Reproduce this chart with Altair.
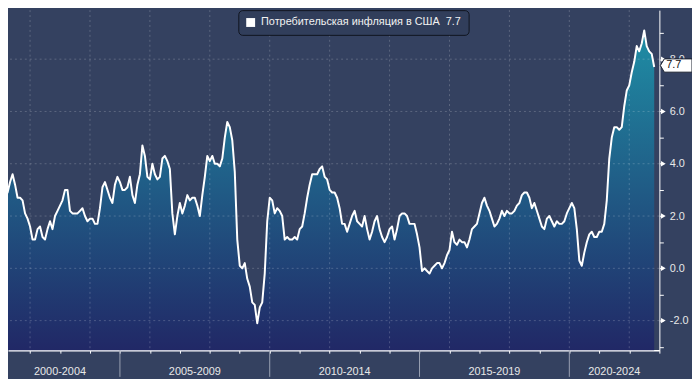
import altair as alt
import pandas as pd

FONT = "Liberation Sans, Arial, sans-serif"
SERIES = "Потребительская инфляция в США\u00a0\u00a07.7"

# US CPI, % y/y, monthly (Jan..Dec)
cpi_2001 = [3.7, 3.5, 2.9, 3.3, 3.6, 3.2, 2.7, 2.7, 2.6, 2.1, 1.9, 1.6]
cpi_2002 = [1.1, 1.1, 1.5, 1.6, 1.2, 1.1, 1.5, 1.8, 1.5, 2.0, 2.2, 2.4]
cpi_2003 = [2.6, 3.0, 3.0, 2.2, 2.1, 2.1, 2.1, 2.2, 2.3, 2.0, 1.8, 1.9]
cpi_2004 = [1.9, 1.7, 1.7, 2.3, 3.1, 3.3, 3.0, 2.7, 2.5, 3.2, 3.5, 3.3]
cpi_2005 = [3.0, 3.0, 3.1, 3.5, 2.8, 2.5, 3.2, 3.6, 4.7, 4.3, 3.5, 3.4]
cpi_2006 = [4.0, 3.6, 3.4, 3.5, 4.2, 4.3, 4.1, 3.8, 2.1, 1.3, 2.0, 2.5]
cpi_2007 = [2.1, 2.4, 2.8, 2.6, 2.7, 2.7, 2.4, 2.0, 2.8, 3.5, 4.3, 4.1]
cpi_2008 = [4.3, 4.0, 4.0, 3.9, 4.2, 5.0, 5.6, 5.4, 4.9, 3.7, 1.1, 0.1]
cpi_2009 = [0.0, 0.2, -0.4, -0.7, -1.3, -1.4, -2.1, -1.5, -1.3, -0.2, 1.8, 2.7]
cpi_2010 = [2.6, 2.1, 2.3, 2.2, 2.0, 1.1, 1.2, 1.1, 1.1, 1.2, 1.1, 1.5]
cpi_2011 = [1.6, 2.1, 2.7, 3.2, 3.6, 3.6, 3.6, 3.8, 3.9, 3.5, 3.4, 3.0]
cpi_2012 = [2.9, 2.9, 2.7, 2.3, 1.7, 1.7, 1.4, 1.7, 2.0, 2.2, 1.8, 1.7]
cpi_2013 = [1.6, 2.0, 1.5, 1.1, 1.4, 1.8, 2.0, 1.5, 1.2, 1.0, 1.2, 1.5]
cpi_2014 = [1.6, 1.1, 1.5, 2.0, 2.1, 2.1, 2.0, 1.7, 1.7, 1.7, 1.3, 0.8]
cpi_2015 = [-0.1, 0.0, -0.1, -0.2, 0.0, 0.1, 0.2, 0.2, 0.0, 0.2, 0.5, 0.7]
cpi_2016 = [1.4, 1.0, 0.9, 1.1, 1.0, 1.0, 0.8, 1.1, 1.5, 1.6, 1.7, 2.1]
cpi_2017 = [2.5, 2.7, 2.4, 2.2, 1.9, 1.6, 1.7, 1.9, 2.2, 2.0, 2.2, 2.1]
cpi_2018 = [2.1, 2.2, 2.4, 2.5, 2.8, 2.9, 2.9, 2.7, 2.3, 2.5, 2.2, 1.9]
cpi_2019 = [1.6, 1.5, 1.9, 2.0, 1.8, 1.6, 1.8, 1.7, 1.7, 1.8, 2.1, 2.3]
cpi_2020 = [2.5, 2.3, 1.5, 0.3, 0.1, 0.6, 1.0, 1.3, 1.4, 1.2, 1.2, 1.4]
cpi_2021 = [1.4, 1.7, 2.6, 4.2, 5.0, 5.4, 5.4, 5.3, 5.4, 6.2, 6.8, 7.0]
cpi_2022 = [7.5, 7.9, 8.5, 8.3, 8.6, 9.1, 8.5, 8.3, 8.2, 7.7]

cpi_years = [
    (2001, cpi_2001), (2002, cpi_2002), (2003, cpi_2003), (2004, cpi_2004),
    (2005, cpi_2005), (2006, cpi_2006), (2007, cpi_2007), (2008, cpi_2008),
    (2009, cpi_2009), (2010, cpi_2010), (2011, cpi_2011), (2012, cpi_2012),
    (2013, cpi_2013), (2014, cpi_2014), (2015, cpi_2015), (2016, cpi_2016),
    (2017, cpi_2017), (2018, cpi_2018), (2019, cpi_2019), (2020, cpi_2020),
    (2021, cpi_2021), (2022, cpi_2022),
]

y_ticks = [-3, -2, -1, 0, 1, 2, 3, 4, 5, 6, 7, 8, 9]
y_major = [-2, 0, 2, 4, 6, 8]
x_year_ticks = list(range(2002, 2024))
x_grid = [2002, 2004, 2006, 2008, 2010, 2012, 2014, 2016, 2018, 2020, 2022]
period_labels = ["2000-2004", "2005-2009", "2010-2014", "2015-2019", "2020-2024"]
period_centers = [2003.0, 2007.5, 2012.5, 2017.5, 2021.5]
period_breaks = [2005, 2010, 2015, 2020]

rows = []
for yr, vals in cpi_years:
    for m, v in enumerate(vals, start=1):
        rows.append({"t": yr + m / 12.0, "cpi": v, "series": SERIES})
df = pd.DataFrame(rows)

last_df = pd.DataFrame({"v": [cpi_2022[-1]], "label": [f"{cpi_2022[-1]:.1f}"]})
major_df = pd.DataFrame({"v": y_major})
xgrid_df = pd.DataFrame({"t": x_grid})
period_df = pd.DataFrame({"t": period_centers, "label": period_labels})
breaks_df = pd.DataFrame({"t": period_breaks})

W, H = 659, 344
BG = "#344160"
Y_MIN, Y_MAX = -3.13, 9.875

x_scale = alt.Scale(domain=[2001.264, 2023.006], nice=False, zero=False)
y_scale = alt.Scale(domain=[Y_MIN, Y_MAX], nice=False, zero=False)

x_axis = alt.Axis(orient="bottom", values=x_year_ticks, labels=False, ticks=True,
                  tickSize=3, tickColor="white", tickWidth=1, domain=True,
                  domainColor="white", domainWidth=1.5, grid=False, title=None)
y_axis = alt.Axis(orient="right", values=y_ticks,
                  labelExpr="datum.value % 2 == 0 ? (datum.value < 0 ? '-' : '') + format(abs(datum.value), '.1f') : ''",
                  tickSize=4, tickColor="white", tickWidth=1, domain=True, domainColor="white",
                  domainWidth=1, labelColor="#e8e8e8", labelFontSize=11, labelFont=FONT,
                  labelPadding=6, grid=False, title=None)


def X(field):
    return alt.X(field, type="quantitative", scale=x_scale, axis=x_axis)


def Y(field):
    return alt.Y(field, type="quantitative", scale=y_scale, axis=y_axis)


area = alt.Chart(df).mark_area(
    line=False,
    fill=alt.Gradient(
        gradient="linear", x1=0, y1=0, x2=0, y2=1,
        stops=[alt.GradientStop(color="#1f8ea5", offset=0),
               alt.GradientStop(color="#212866", offset=1)],
    ),
).encode(x=X("t"), y=Y("cpi"), y2=alt.datum(Y_MIN))

grid_style = dict(color="white", opacity=0.2, strokeDash=[2, 3], strokeWidth=1)
hgrid = alt.Chart(major_df).mark_rule(**grid_style).encode(y=Y("v"))
vgrid = alt.Chart(xgrid_df).mark_rule(**grid_style).encode(x=X("t"))

line = alt.Chart(df).mark_line(color="white", strokeWidth=2, strokeJoin="round").encode(
    x=X("t"), y=Y("cpi"))

legend_pts = alt.Chart(df.head(1)).mark_point(shape="square", filled=True, opacity=0, size=81).encode(
    x=X("t"), y=Y("cpi"),
    color=alt.Color("series:N", scale=alt.Scale(range=["white"]),
                    legend=alt.Legend(orient="none", legendX=233, legendY=0, title=None,
                                      symbolType="square", symbolSize=81, symbolOpacity=1,
                                      symbolStrokeWidth=0, symbolFillColor="white",
                                      labelFont=FONT, labelFontSize=11, labelColor="#f2f2f2",
                                      labelLimit=400, labelOffset=5, padding=7,
                                      fillColor="#313e5b", strokeColor="#10151f",
                                      cornerRadius=4)),
)

separators = alt.Chart(breaks_df).mark_rule(color="#9aa1b2", strokeWidth=1).encode(
    x=X("t"), y=alt.value(H), y2=alt.value(H + 27))

periods = alt.Chart(period_df).mark_text(
    align="center", baseline="alphabetic", font=FONT, fontSize=11, color="#e8e8e8"
).encode(x=X("t"), y=alt.value(H + 24.7), text="label:N")

triangles = alt.Chart(major_df).mark_point(
    shape="triangle-right", filled=True, color="white", size=30, opacity=1
).encode(x=alt.value(W + 4), y=Y("v"))

TAG = "M-1,0L-0.75,-0.42L1,-0.42L1,0.42L-0.75,0.42Z"
tag = alt.Chart(last_df).mark_point(
    shape=TAG, filled=True, fill="white", stroke="#1a2030", strokeWidth=1,
    size=1024, opacity=1, yOffset=-1.5
).encode(x=alt.value(W + 17), y=Y("v"))

tag_text = alt.Chart(last_df).mark_text(
    align="left", baseline="middle", font=FONT, fontSize=11, color="#111111", yOffset=-1.5
).encode(x=alt.value(W + 7), y=Y("v"), text="label:N")

chart = alt.layer(
    area, hgrid, vgrid, line, legend_pts, separators, periods, triangles, tag, tag_text
).properties(
    width=W, height=H, background=BG,
    padding={"left": 0, "top": 0, "right": 33, "bottom": 27},
    autosize=alt.AutoSizeParams(type="none"),
).configure_view(stroke=None)

chart.save("out.html", embed_options={"renderer": "svg", "actions": False})
